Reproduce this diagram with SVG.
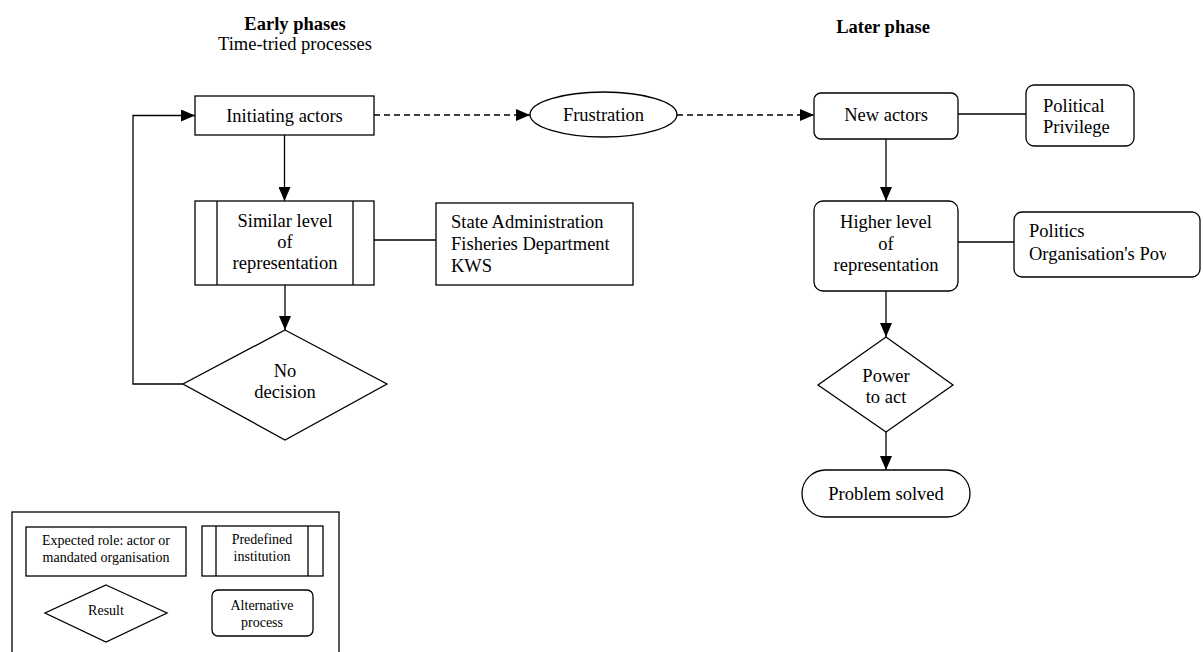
<svg xmlns="http://www.w3.org/2000/svg" width="1203" height="652" viewBox="0 0 1203 652">
  <style>
    .shape { fill: #fff; stroke: #000; stroke-width: 1.3; }
    .line { fill: none; stroke: #000; stroke-width: 1.3; }
    .dash { fill: none; stroke: #000; stroke-width: 1.3; stroke-dasharray: 6 4; }
    text { font-family: "Liberation Serif", "Times New Roman", serif; fill: #000; }
    .t { font-size: 18.5px; }
    .c { text-anchor: middle; }
    .title { font-size: 18.5px; font-weight: bold; text-anchor: middle; }
    .small { font-size: 14px; text-anchor: middle; }
  </style>
  <defs>
    <marker id="arrow" markerUnits="userSpaceOnUse" markerWidth="14" markerHeight="12" refX="14" refY="6" orient="auto">
      <path d="M0,0 L14,6 L0,12 Z" fill="#000"/>
    </marker>
    <clipPath id="politicsClip">
      <rect x="1014" y="212" width="152" height="66"/>
    </clipPath>
  </defs>

  <rect width="1203" height="652" fill="#fff"/>

  <!-- Phase headings -->
  <g id="heading-early">
    <text class="title" x="295" y="30">Early phases</text>
    <text class="t c" x="295" y="50">Time-tried processes</text>
  </g>
  <g id="heading-later">
    <text class="title" x="883" y="33">Later phase</text>
  </g>

  <!-- Connectors -->
  <g id="connectors">
    <line class="line" x1="284.5" y1="135" x2="284.5" y2="201" marker-end="url(#arrow)"/>
    <line class="line" x1="285" y1="285" x2="285" y2="330" marker-end="url(#arrow)"/>
    <polyline class="line" points="183,384 133,384 133,115.5 195,115.5" marker-end="url(#arrow)"/>
    <line class="line" x1="374" y1="240" x2="436" y2="240"/>
    <line class="dash" x1="374" y1="115" x2="530" y2="115" marker-end="url(#arrow)"/>
    <line class="dash" x1="677" y1="115" x2="814" y2="115" marker-end="url(#arrow)"/>
    <line class="line" x1="958" y1="114" x2="1026" y2="114"/>
    <line class="line" x1="886" y1="139" x2="886" y2="201" marker-end="url(#arrow)"/>
    <line class="line" x1="958" y1="242" x2="1014" y2="242"/>
    <line class="line" x1="886" y1="291" x2="886" y2="337" marker-end="url(#arrow)"/>
    <line class="line" x1="886" y1="432" x2="886" y2="470" marker-end="url(#arrow)"/>
  </g>

  <!-- Early phase nodes -->
  <g id="initiating-actors">
    <rect class="shape" x="195" y="96" width="179" height="39"/>
    <text class="t c" x="284.5" y="121.5">Initiating actors</text>
  </g>
  <g id="similar-level">
    <rect class="shape" x="195" y="201" width="179" height="84"/>
    <line class="line" x1="217" y1="201" x2="217" y2="285"/>
    <line class="line" x1="353" y1="201" x2="353" y2="285"/>
    <text class="t c" x="285" y="227">Similar level</text>
    <text class="t c" x="285" y="248">of</text>
    <text class="t c" x="285" y="269">representation</text>
  </g>
  <g id="state-administration">
    <rect class="shape" x="436" y="203" width="197" height="82"/>
    <text class="t" x="451" y="228">State Administration</text>
    <text class="t" x="451" y="250">Fisheries Department</text>
    <text class="t" x="451" y="272">KWS</text>
  </g>
  <g id="no-decision">
    <polygon class="shape" points="285,330 387,384 285,440 183,384"/>
    <text class="t c" x="285" y="377">No</text>
    <text class="t c" x="285" y="398">decision</text>
  </g>
  <g id="frustration">
    <ellipse class="shape" cx="603.5" cy="114.5" rx="73.5" ry="22.5"/>
    <text class="t c" x="603.5" y="120.5">Frustration</text>
  </g>

  <!-- Later phase nodes -->
  <g id="new-actors">
    <rect class="shape" x="814" y="93" width="144" height="46" rx="7"/>
    <text class="t c" x="886" y="121">New actors</text>
  </g>
  <g id="political-privilege">
    <rect class="shape" x="1026" y="85" width="108" height="61" rx="8"/>
    <text class="t" x="1043" y="112">Political</text>
    <text class="t" x="1043" y="133">Privilege</text>
  </g>
  <g id="higher-level">
    <rect class="shape" x="814" y="201" width="144" height="90" rx="9"/>
    <text class="t c" x="886" y="228">Higher level</text>
    <text class="t c" x="886" y="250">of</text>
    <text class="t c" x="886" y="271">representation</text>
  </g>
  <g id="politics">
    <rect class="shape" x="1014" y="212" width="186" height="65" rx="8"/>
    <g clip-path="url(#politicsClip)">
      <text class="t" x="1029" y="237">Politics</text>
      <text class="t" x="1029" y="260">Organisation's Power</text>
    </g>
  </g>
  <g id="power-to-act">
    <polygon class="shape" points="886,337 953,385 886,432 818,385"/>
    <text class="t c" x="886" y="382">Power</text>
    <text class="t c" x="886" y="403">to act</text>
  </g>
  <g id="problem-solved">
    <rect class="shape" x="802" y="470" width="168" height="47" rx="23.5"/>
    <text class="t c" x="886" y="500">Problem solved</text>
  </g>

  <!-- Legend -->
  <g id="legend">
    <rect class="shape" x="12" y="512" width="327" height="150"/>
    <g id="legend-expected-role">
      <rect class="shape" x="26" y="527" width="160" height="49"/>
      <text class="small" x="106" y="545">Expected role: actor or</text>
      <text class="small" x="106" y="562">mandated organisation</text>
    </g>
    <g id="legend-predefined">
      <rect class="shape" x="202" y="526" width="121" height="50"/>
      <line class="line" x1="216" y1="526" x2="216" y2="576"/>
      <line class="line" x1="308" y1="526" x2="308" y2="576"/>
      <text class="small" x="262" y="544">Predefined</text>
      <text class="small" x="262" y="561">institution</text>
    </g>
    <g id="legend-result">
      <polygon class="shape" points="106,585 167,613 106,642 45,613"/>
      <text class="small" x="106" y="615">Result</text>
    </g>
    <g id="legend-alternative">
      <rect class="shape" x="212" y="590" width="101" height="46" rx="6"/>
      <text class="small" x="262" y="610">Alternative</text>
      <text class="small" x="262" y="627">process</text>
    </g>
  </g>
</svg>
